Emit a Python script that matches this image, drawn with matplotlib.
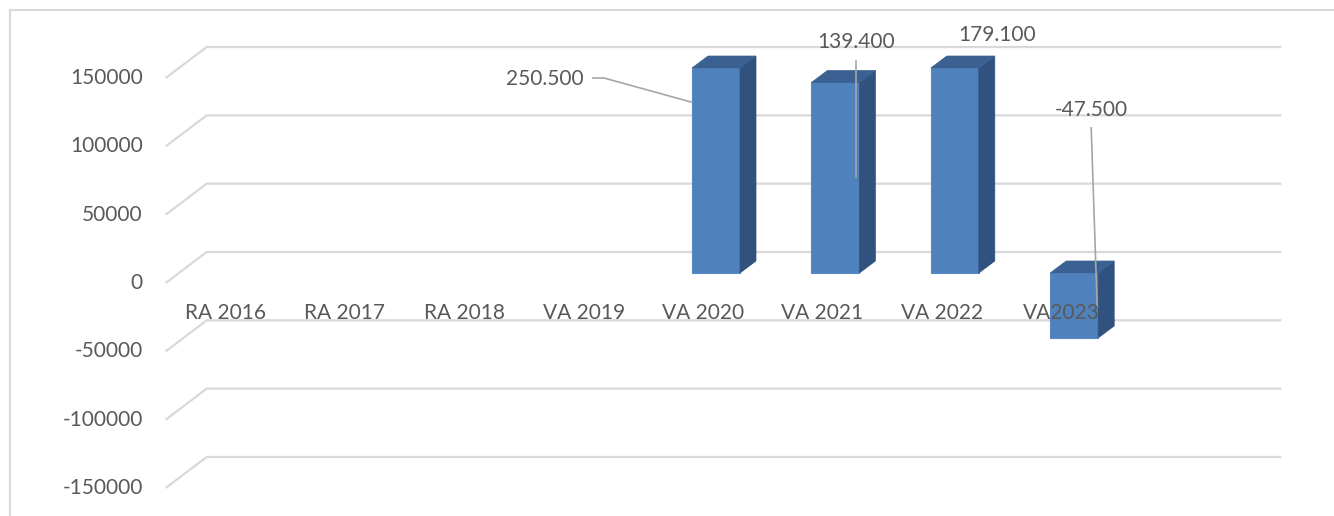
import matplotlib.pyplot as plt
from matplotlib.patches import Polygon, Rectangle

# Data
categories = ['RA 2016', 'RA 2017', 'RA 2018', 'VA 2019',
              'VA 2020', 'VA 2021', 'VA 2022', 'VA2023']
values = [None, None, None, None, 250500, 139400, 179100, -47500]
y_ticks = [150000, 100000, 50000, 0, -50000, -100000, -150000]
y_min, y_max = -150000, 150000

# label offsets (pixels, y down) from front-top of each bar, plus leader line points
label_offsets = {
    'VA 2020': ((-171, 11), [(-123, 10), (-112, 10), (-25, 34)]),
    'VA 2021': ((21, -40), [(21, -21), (21, 95)]),
    'VA 2022': ((42, -33), []),
    'VA2023': ((17, -228), [(17, -210), (23, -31)]),
}

# Colors
c_front = '#4F81BD'
c_side = '#31527E'
c_top = '#3A6191'
c_grid = '#D9D9D9'
c_text = '#595959'
c_leader = '#A6A6A6'

W, H = 1334, 516
fig = plt.figure(figsize=(W / 100, H / 100), dpi=100)
ax = fig.add_axes([0, 0, 1, 1])
ax.axis('off')

# pixel scale of the front plane
px_cat = 119.4             # pixels per category
val_px = 50000 / 68.33     # value units per pixel
x0_px = 225.4              # first category centre
zero_px = 283              # zero line (from top)
ax.set_xlim(-x0_px / px_cat, (W - x0_px) / px_cat)
ax.set_ylim(-(H - zero_px) * val_px, zero_px * val_px)


def dxp(px):
    return px / px_cat


def dyp(px):  # px measured downward
    return -px * val_px


font = dict(family=['Lato', 'DejaVu Sans'], size=15, color=c_text)

# depth offsets
back_dx, back_dy = dxp(41), dyp(-31)
bar_dx, bar_dy = dxp(13), dyp(-10)
side_dx, side_dy = dxp(16), dyp(-12)
bar_w = dxp(48)
x_left = -0.5
x_right = len(categories) + 0.5

# gridlines
for t in y_ticks:
    ax.plot([x_left, x_left + back_dx, x_right + back_dx], [t, t + back_dy, t + back_dy],
            color=c_grid, lw=1.6, zorder=1, solid_capstyle='butt')
    ax.annotate(str(t), (x_left, t), xytext=(-23, 0), textcoords='offset pixels',
                ha='right', va='center', **font)

# bars
for i, (cat, v) in enumerate(zip(categories, values)):
    if v is None:
        continue
    vc = max(min(v, y_max), y_min)
    xl = i + bar_dx - bar_w / 2
    xr = xl + bar_w
    lo = min(0, vc) + bar_dy
    hi = max(0, vc) + bar_dy
    ax.add_patch(Rectangle((xl, lo), bar_w, hi - lo, facecolor=c_front,
                           edgecolor='#5A8AC6', lw=0.8, zorder=3))
    ax.add_patch(Polygon([(xr, lo), (xr, hi), (xr + side_dx, hi + side_dy),
                          (xr + side_dx, lo + side_dy)], closed=True,
                         facecolor=c_side, edgecolor=c_side, lw=0.5, zorder=3))
    ax.add_patch(Polygon([(xl, hi), (xr, hi), (xr + side_dx, hi + side_dy),
                          (xl + side_dx, hi + side_dy)], closed=True,
                         facecolor=c_top, edgecolor=c_top, lw=0.5, zorder=3))

    # data label
    ax_x = i + bar_dx
    ax_y = vc + bar_dy
    (lx, ly), leader = label_offsets[cat]
    ax.text(ax_x + dxp(lx), ax_y + dyp(ly), f'{v:,.0f}'.replace(',', '.'),
            ha='center', va='center', zorder=6, **font)
    if leader:
        ax.plot([ax_x + dxp(p[0]) for p in leader], [ax_y + dyp(p[1]) for p in leader],
                color=c_leader, lw=1.2, zorder=5)

# category labels
for i, cat in enumerate(categories):
    ax.annotate(cat, (i, 0), xytext=(0, -30), textcoords='offset pixels',
                ha='center', va='center', zorder=5, **font)

# chart border
fig.patches.append(Rectangle((10 / W, -0.1), 1.2, 1 - 10 / H + 0.1,
                             transform=fig.transFigure, fill=False,
                             edgecolor=c_grid, lw=1.5))

fig.savefig('out.png', dpi=100)
